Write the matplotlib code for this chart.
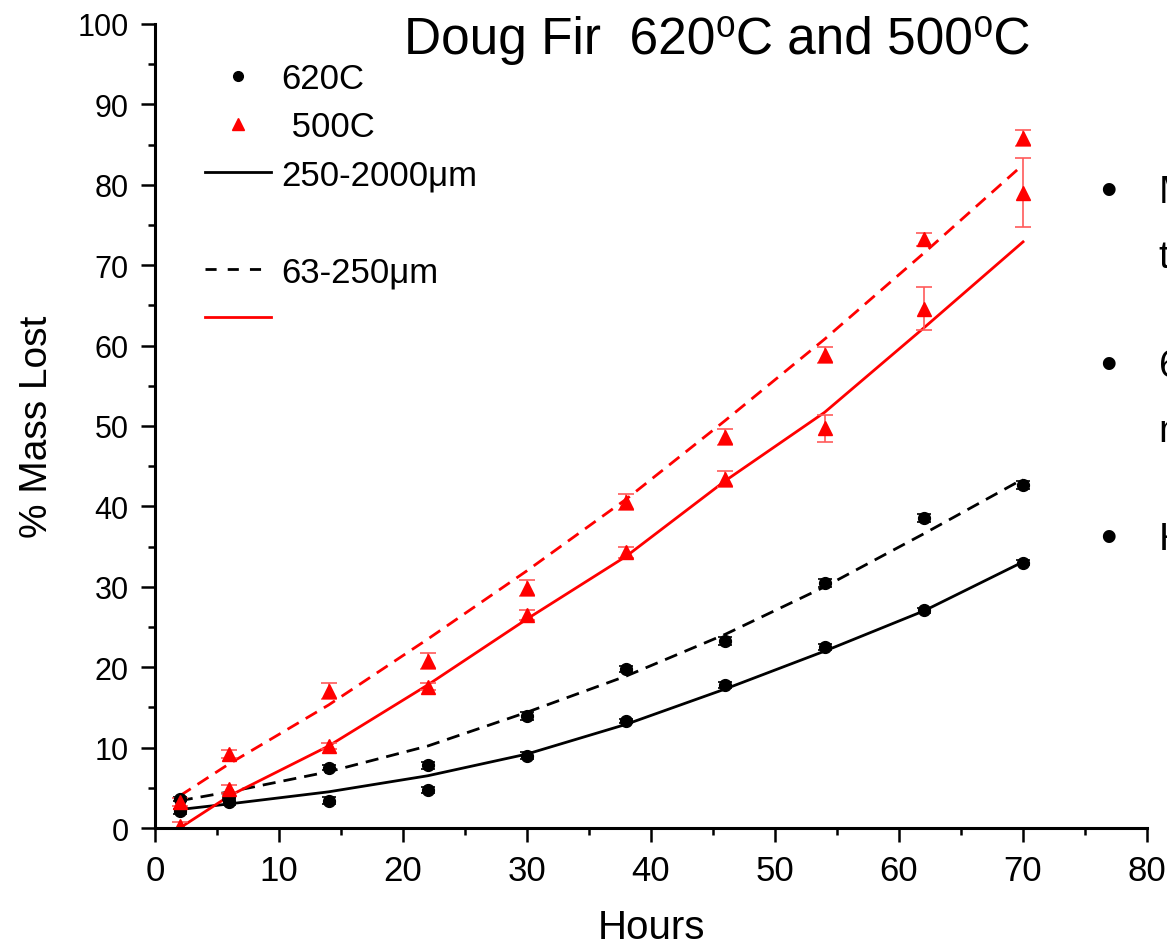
import matplotlib
matplotlib.use('Agg')
import matplotlib.pyplot as plt
from matplotlib.lines import Line2D
import numpy as np

plt.rcParams['font.family'] = ['Liberation Sans', 'DejaVu Sans']

# ---- data ----
hours = [2, 6, 14, 22, 30, 38, 46, 54, 62, 70]

# 620C, 250-2000 um (solid fit) and 63-250 um (dashed fit)
c620_large = [2.1, 3.2, 3.4, 4.7, 9.0, 13.3, 17.8, 22.5, 27.1, 33.0]
c620_large_err = [0.3, 0.3, 0.4, 0.4, 0.4, 0.3, 0.4, 0.4, 0.3, 0.3]
c620_small = [3.6, 4.0, 7.5, 7.8, 13.9, 19.8, 23.2, 30.5, 38.5, 42.7]
c620_small_err = [0.3, 0.3, 0.3, 0.4, 0.5, 0.4, 0.5, 0.5, 0.5, 0.5]

# 500C
c500_large = [0.3, 4.9, 10.2, 17.6, 26.5, 34.3, 43.4, 49.7, 64.6, 79.0]
c500_large_err = [0.4, 0.5, 0.4, 0.4, 0.6, 0.7, 1.0, 1.7, 2.7, 4.3]
c500_small = [3.2, 9.2, 17.0, 20.8, 29.8, 40.6, 48.6, 58.8, 73.2, 85.8]
c500_small_err = [0.5, 0.5, 1.0, 1.0, 1.0, 1.0, 1.0, 1.0, 0.8, 1.0]

# fitted curves (at the same hours)
fit620_large = [2.3, 3.0, 4.5, 6.5, 9.2, 12.9, 17.3, 22.0, 27.0, 33.1]
fit620_small = [3.4, 4.5, 7.0, 10.2, 14.4, 18.9, 24.1, 30.0, 36.6, 43.4]
fit500_large = [0.0, 4.0, 10.2, 17.8, 26.0, 33.8, 43.2, 51.7, 62.2, 72.9]
fit500_small = [4.0, 8.0, 15.3, 23.5, 32.0, 40.9, 50.7, 60.8, 71.5, 82.5]

fig = plt.figure(figsize=(11.67, 9.53), dpi=100)
ax = fig.add_axes([0.1328, 0.1301, 0.8501, 0.8437])

dash = (0, (4.7, 2.9))
ax.plot(hours, fit620_large, color='black', lw=2)
ax.plot(hours, fit620_small, color='black', lw=2, linestyle=dash)
ax.plot(hours, fit500_large, color='red', lw=2)
ax.plot(hours, fit500_small, color='red', lw=2, linestyle=dash)

ax.errorbar(hours, c620_large, yerr=c620_large_err, fmt='o', color='black',
            ms=8.5, capsize=5, elinewidth=1.2, capthick=1.2)
ax.errorbar(hours, c620_small, yerr=c620_small_err, fmt='o', color='black',
            ms=8.5, capsize=5, elinewidth=1.2, capthick=1.2)
ax.errorbar(hours, c500_large, yerr=c500_large_err, fmt='^', color='red',
            ecolor='#ff5a5a', ms=10, capsize=5.5, elinewidth=1.2, capthick=1.2)
ax.errorbar(hours, c500_small, yerr=c500_small_err, fmt='^', color='red',
            ecolor='#ff5a5a', ms=10, capsize=5.5, elinewidth=1.2, capthick=1.2)

ax.set_xlim(0, 80)
ax.set_ylim(0, 100)
ax.set_xticks(np.arange(0, 81, 10))
ax.set_xticks(np.arange(0, 81, 5), minor=True)
ax.set_yticks(np.arange(0, 101, 10))
ax.set_yticks(np.arange(0, 101, 5), minor=True)
for s in ['top', 'right']:
    ax.spines[s].set_visible(False)
for s in ['left', 'bottom']:
    ax.spines[s].set_linewidth(2.2)
ax.tick_params(axis='both', which='major', direction='out', length=10, width=1.8)
ax.tick_params(axis='both', which='minor', direction='out', length=5, width=1.8)
ax.tick_params(axis='x', pad=9, labelsize=25)
ax.tick_params(axis='y', pad=9, labelsize=22)

ax.set_xlabel('Hours', fontsize=29, labelpad=15)
ax.set_ylabel('% Mass Lost', fontsize=28, labelpad=16)

fig.text(0.615, 0.958, 'Doug Fir  620\u2070C and 500\u2070C',
         fontsize=37, ha='center', va='center')

# legend
handles = [
    Line2D([], [], marker='o', color='black', ls='none', ms=7),
    Line2D([], [], marker='^', color='red', ls='none', ms=8),
    Line2D([], [], color='black', lw=2),
    Line2D([], [], color='none'),
    Line2D([], [], color='black', lw=2, linestyle=(0, (4, 4))),
    Line2D([], [], color='red', lw=2),
]
labels = ['620C', ' 500C', '250-2000\u03bcm', '', '63-250\u03bcm', '']
ax.legend(handles, labels, loc='upper left', bbox_to_anchor=(0.036, 0.97),
          frameon=False, fontsize=25, handlelength=1.9, handletextpad=0.32,
          labelspacing=0.44, borderaxespad=0)

# slide bullets cut off at the right edge
bullets = [('\u2022', 0.797, 'Mass loss increases with'),
           ('', 0.729, 'time at both temperatures'),
           ('\u2022', 0.615, '63-250\u03bcm particles lose'),
           ('', 0.547, 'more mass'),
           ('\u2022', 0.433, 'Higher temperature')]
for b, y, t in bullets:
    if b:
        fig.text(0.950, y, b, fontsize=34, ha='center', va='center')
    fig.text(0.993, y, t, fontsize=28, ha='left', va='center')

fig.savefig('out.png', dpi=100)
